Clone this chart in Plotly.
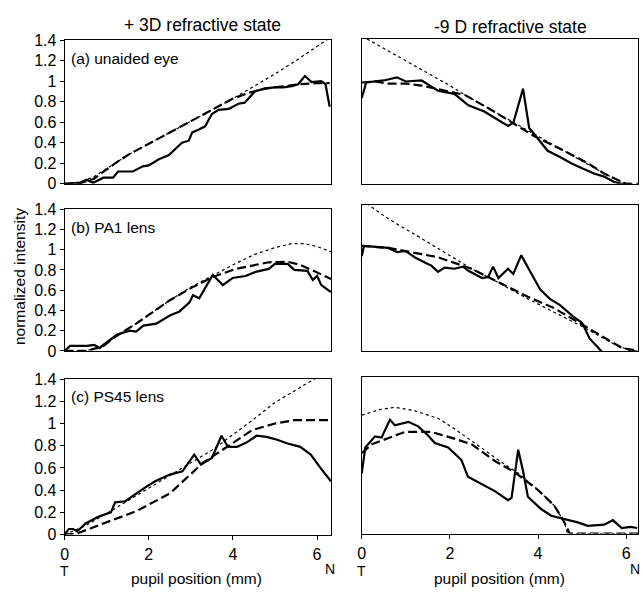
import plotly.graph_objects as go

# ---------------- data (pupil position mm, normalized intensity) ----------------
# Panel (a) unaided eye, +3D
a3_solid_x = [0, 0.37, 0.52, 0.68, 0.92, 1.15, 1.27, 1.62, 1.86, 2.0, 2.24, 2.48, 2.63, 2.79, 2.95, 3.03, 3.19, 3.34, 3.5, 3.66, 3.9, 4.05, 4.13, 4.28, 4.52, 4.76, 5.0, 5.2, 5.4, 5.55, 5.71, 5.87, 6.1, 6.2, 6.3]
a3_solid_y = [0, 0.01, 0.04, 0.01, 0.06, 0.06, 0.12, 0.12, 0.17, 0.18, 0.24, 0.28, 0.34, 0.4, 0.42, 0.5, 0.53, 0.56, 0.68, 0.72, 0.73, 0.76, 0.78, 0.79, 0.9, 0.93, 0.94, 0.94, 0.95, 0.97, 1.05, 0.99, 1.0, 0.97, 0.75]
a3_dash_x = [0, 0.4, 0.7, 1.2, 1.5, 2.0, 2.5, 3.0, 3.5, 4.0, 4.4, 4.8, 5.2, 5.6, 6.0, 6.3]
a3_dash_y = [0, 0.01, 0.05, 0.2, 0.28, 0.39, 0.5, 0.61, 0.72, 0.83, 0.89, 0.93, 0.95, 0.97, 0.98, 0.98]
a3_dot_x = [0, 0.4, 0.7, 1.2, 1.5, 2.0, 2.5, 3.0, 3.5, 4.0, 4.5, 5.0, 5.5, 6.0, 6.33]
a3_dot_y = [0, 0.02, 0.07, 0.2, 0.28, 0.39, 0.5, 0.61, 0.72, 0.83, 0.95, 1.07, 1.2, 1.34, 1.43]

# Panel (a) unaided eye, -9D
a9_solid_x = [0, 0.1, 0.5, 0.8, 1.0, 1.36, 1.58, 1.73, 2.1, 2.42, 2.78, 3.1, 3.32, 3.44, 3.66, 3.8, 3.96, 4.22, 4.5, 4.75, 5.0, 5.27, 5.5, 5.72, 5.9, 6.1]
a9_solid_y = [0.83, 0.98, 1.0, 1.03, 0.99, 1.0, 0.94, 0.9, 0.87, 0.76, 0.7, 0.62, 0.56, 0.59, 0.92, 0.54, 0.46, 0.32, 0.26, 0.2, 0.15, 0.1, 0.07, 0.02, 0.0, 0.0]
a9_dash_x = [0, 0.3, 0.6, 1.0, 1.36, 1.8, 2.34, 3.0, 3.62, 3.92, 4.5, 5.13, 5.5, 6.0, 6.27]
a9_dash_y = [0.98, 0.99, 0.97, 0.97, 0.95, 0.91, 0.86, 0.7, 0.54, 0.46, 0.34, 0.2, 0.1, 0.0, 0.0]
a9_dot_x = [0, 1.0, 2.0, 2.34, 3.0, 3.5, 4.0, 4.5, 5.0, 5.5, 6.0, 6.27]
a9_dot_y = [1.43, 1.19, 0.95, 0.86, 0.7, 0.58, 0.46, 0.34, 0.22, 0.1, 0.0, -0.01]

# Panel (b) PA1 lens, +3D
b3_solid_x = [0, 0.13, 0.53, 0.7, 0.84, 0.92, 1.24, 1.55, 1.7, 1.87, 2.18, 2.5, 2.73, 2.97, 3.05, 3.2, 3.52, 3.76, 3.99, 4.3, 4.54, 4.85, 5.0, 5.3, 5.46, 5.77, 5.9, 6.0, 6.1, 6.33]
b3_solid_y = [0, 0.05, 0.05, 0.06, 0.03, 0.06, 0.16, 0.2, 0.19, 0.25, 0.27, 0.35, 0.39, 0.48, 0.55, 0.52, 0.75, 0.65, 0.72, 0.74, 0.78, 0.81, 0.86, 0.86, 0.8, 0.79, 0.7, 0.74, 0.65, 0.58]
b3_dash_x = [0, 0.5, 0.9, 1.24, 1.7, 2.5, 3.0, 3.52, 4.07, 4.85, 5.3, 5.6, 5.87, 6.33]
b3_dash_y = [0, 0.0, 0.04, 0.15, 0.27, 0.5, 0.62, 0.73, 0.81, 0.875, 0.88, 0.85, 0.8, 0.71]
b3_dot_x = [0, 0.5, 0.9, 1.24, 1.7, 2.5, 3.0, 3.5, 4.0, 4.5, 5.0, 5.4, 5.7, 6.0, 6.33]
b3_dot_y = [0, 0.0, 0.05, 0.15, 0.27, 0.5, 0.63, 0.74, 0.85, 0.95, 1.02, 1.06, 1.06, 1.03, 0.98]

# Panel (b) PA1 lens, -9D
b9_solid_x = [0, 0.05, 0.6, 0.8, 1.0, 1.2, 1.43, 1.58, 1.73, 1.88, 2.1, 2.3, 2.42, 2.73, 2.87, 2.98, 3.1, 3.32, 3.44, 3.62, 3.8, 4.05, 4.27, 4.5, 4.8, 5.0, 5.17, 5.32, 5.5]
b9_solid_y = [0.91, 1.01, 0.99, 0.95, 0.96, 0.9, 0.85, 0.82, 0.76, 0.8, 0.79, 0.81, 0.77, 0.7, 0.71, 0.81, 0.7, 0.79, 0.74, 0.92, 0.78, 0.59, 0.5, 0.44, 0.33, 0.27, 0.12, 0.05, -0.03]
b9_dash_x = [0, 0.6, 1.36, 1.73, 2.49, 3.0, 3.77, 4.37, 5.13, 5.9, 6.27]
b9_dash_y = [1.01, 0.99, 0.93, 0.9, 0.79, 0.68, 0.52, 0.41, 0.22, 0.03, 0.0]
b9_dot_x = [0, 0.6, 1.36, 2.1, 2.49, 3.0, 3.77, 4.98, 5.66, 6.1, 6.27]
b9_dot_y = [1.45, 1.27, 1.08, 0.89, 0.79, 0.68, 0.5, 0.24, 0.08, 0.0, 0.0]

# Panel (c) PS45 lens, +3D
c3_solid_x = [0, 0.1, 0.2, 0.3, 0.5, 0.8, 1.1, 1.2, 1.44, 1.7, 1.9, 2.15, 2.5, 2.8, 3.08, 3.24, 3.5, 3.73, 3.88, 4.1, 4.33, 4.56, 4.8, 5.0, 5.3, 5.6, 5.85, 6.08, 6.33]
c3_solid_y = [0, 0.05, 0.05, 0.03, 0.1, 0.16, 0.2, 0.29, 0.3, 0.37, 0.42, 0.48, 0.54, 0.57, 0.72, 0.63, 0.69, 0.89, 0.79, 0.79, 0.83, 0.89, 0.88, 0.86, 0.82, 0.79, 0.72, 0.6, 0.48]
c3_dash_x = [0, 0.3, 0.92, 1.7, 2.5, 2.9, 3.3, 3.9, 4.45, 5.0, 5.45, 6.0, 6.33]
c3_dash_y = [0, 0.01, 0.1, 0.21, 0.37, 0.51, 0.65, 0.8, 0.94, 1.0, 1.03, 1.03, 1.03]
c3_dot_x = [0, 0.5, 1.0, 2.0, 3.0, 3.5, 4.0, 4.5, 5.0, 5.5, 6.0, 6.33]
c3_dot_y = [0, 0.08, 0.19, 0.42, 0.65, 0.76, 0.9, 1.04, 1.19, 1.3, 1.41, 1.49]

# Panel (c) PS45 lens, -9D
c9_solid_x = [0, 0.08, 0.3, 0.45, 0.64, 0.75, 1.06, 1.28, 1.5, 1.66, 1.96, 2.1, 2.26, 2.41, 2.64, 3.02, 3.32, 3.4, 3.55, 3.66, 3.77, 4.07, 4.3, 4.6, 4.9, 5.13, 5.5, 5.7, 5.9, 6.1, 6.25]
c9_solid_y = [0.54, 0.77, 0.87, 0.86, 1.02, 0.97, 1.0, 0.96, 0.88, 0.81, 0.77, 0.72, 0.66, 0.51, 0.46, 0.38, 0.3, 0.32, 0.75, 0.56, 0.33, 0.22, 0.16, 0.13, 0.1, 0.07, 0.08, 0.12, 0.05, 0.06, 0.05]
c9_dash_x = [0, 0.23, 0.98, 1.58, 2.1, 2.49, 3.02, 3.47, 4.0, 4.37, 4.6, 4.72, 5.5, 6.27]
c9_dash_y = [0.72, 0.8, 0.91, 0.91, 0.85, 0.8, 0.65, 0.55, 0.39, 0.25, 0.1, 0.0, 0.0, 0.0]
c9_dot_x = [0, 0.4, 0.75, 1.2, 1.74, 2.1, 2.49, 3.02, 3.55, 4.0, 4.37, 4.6, 4.67, 5.5, 6.27]
c9_dot_y = [1.06, 1.11, 1.13, 1.1, 1.03, 0.94, 0.83, 0.68, 0.54, 0.39, 0.25, 0.1, 0.0, 0.0, 0.0]

y_tick_vals = [0, 0.2, 0.4, 0.6, 0.8, 1, 1.2, 1.4]
y_tick_text = ["0", "0.2", "0.4", "0.6", "0.8", "1", "1.2", "1.4"]
x_tick_vals = [0, 2, 4, 6]
x_tick_text = ["0", "2", "4", "6"]
col_titles = ["+ 3D refractive state", "-9 D refractive state"]
panel_labels = ["(a) unaided eye", "(b) PA1 lens", "(c) PS45 lens"]
x_title = "pupil position (mm)"
y_title = "normalized intensity"

# ---------------- layout geometry ----------------
W, H = 643, 597
FONT = "Liberation Sans, Arial, Helvetica, sans-serif"

def fx(px):
    return px / W

def fy(py):
    return 1 - py / H

col_px = [(61, 329), (360, 638)]
row_px = {0: [(33, 181), (32, 181)], 1: [(207, 353), (203, 353)], 2: [(382, 542), (380, 541)]}
x_max = [6.33, 6.27]

panels = [
    (0, 0, a3_solid_x, a3_solid_y, a3_dash_x, a3_dash_y, a3_dot_x, a3_dot_y),
    (0, 1, a9_solid_x, a9_solid_y, a9_dash_x, a9_dash_y, a9_dot_x, a9_dot_y),
    (1, 0, b3_solid_x, b3_solid_y, b3_dash_x, b3_dash_y, b3_dot_x, b3_dot_y),
    (1, 1, b9_solid_x, b9_solid_y, b9_dash_x, b9_dash_y, b9_dot_x, b9_dot_y),
    (2, 0, c3_solid_x, c3_solid_y, c3_dash_x, c3_dash_y, c3_dot_x, c3_dot_y),
    (2, 1, c9_solid_x, c9_solid_y, c9_dash_x, c9_dash_y, c9_dot_x, c9_dot_y),
]

fig = go.Figure()
layout = {}

for idx, (r, c, sx, sy, dx, dy, ox, oy) in enumerate(panels):
    n = idx + 1
    xa = "x" if n == 1 else f"x{n}"
    ya = "y" if n == 1 else f"y{n}"
    fig.add_trace(go.Scatter(x=ox, y=oy, mode="lines", xaxis=xa, yaxis=ya,
                             line=dict(color="black", width=1.2, dash="dot"), showlegend=False))
    fig.add_trace(go.Scatter(x=dx, y=dy, mode="lines", xaxis=xa, yaxis=ya,
                             line=dict(color="black", width=2.2, dash="9px,4px"), showlegend=False))
    fig.add_trace(go.Scatter(x=sx, y=sy, mode="lines", xaxis=xa, yaxis=ya,
                             line=dict(color="black", width=2.2), showlegend=False))

    (l, rr) = col_px[c]
    (t, b) = row_px[r][c]
    bottom = (r == 2)
    layout["xaxis" if n == 1 else f"xaxis{n}"] = dict(
        domain=[fx(l), fx(rr)], range=[0, x_max[c]], anchor=ya,
        showgrid=False, zeroline=False, showline=True, linecolor="black", linewidth=1,
        mirror=True,
        ticks="outside" if bottom else "", ticklen=4, tickcolor="black",
        ticklabelstandoff=1,
        tickvals=x_tick_vals, ticktext=x_tick_text, showticklabels=bottom,
        tickfont=dict(family=FONT, size=16, color="black"),
    )
    layout["yaxis" if n == 1 else f"yaxis{n}"] = dict(
        domain=[fy(b), fy(t)], range=[0, 1.4], anchor=xa,
        showgrid=False, zeroline=False, showline=True, linecolor="black", linewidth=1,
        mirror=True,
        ticks="outside" if c == 0 else "", ticklen=4, tickcolor="black",
        tickvals=y_tick_vals, ticktext=y_tick_text, showticklabels=(c == 0),
        tickfont=dict(family=FONT, size=16, color="black"),
    )

annotations = []
for c, (cx, cy) in enumerate([(200, 17), (510, 20)]):
    annotations.append(dict(x=fx(cx), y=fy(cy), xref="paper", yref="paper", text=col_titles[c],
                            showarrow=False, xanchor="center", yanchor="middle",
                            font=dict(family=FONT, size=17.5, color="black")))
for r, py in enumerate([52, 226, 400]):
    annotations.append(dict(x=fx(65), y=fy(py), xref="paper", yref="paper", text=panel_labels[r],
                            showarrow=False, xanchor="left", yanchor="middle",
                            font=dict(family=FONT, size=15.5, color="black")))
annotations.append(dict(x=fx(15), y=fy(276), xref="paper", yref="paper", text=y_title,
                        showarrow=False, textangle=-90, xanchor="center", yanchor="middle",
                        font=dict(family=FONT, size=15.5, color="black")))
for cx in [194, 499]:
    annotations.append(dict(x=fx(cx), y=fy(587), xref="paper", yref="paper", text=x_title,
                            showarrow=False, xanchor="center", yanchor="middle",
                            font=dict(family=FONT, size=15.5, color="black")))
for tx, nx in [(61, 328), (360, 635)]:
    annotations.append(dict(x=fx(tx), y=fy(579), xref="paper", yref="paper", text="T",
                            showarrow=False, xanchor="center", yanchor="middle",
                            font=dict(family=FONT, size=14, color="black")))
    annotations.append(dict(x=fx(nx), y=fy(577), xref="paper", yref="paper", text="N",
                            showarrow=False, xanchor="center", yanchor="middle",
                            font=dict(family=FONT, size=14, color="black")))

fig.update_layout(
    width=W, height=H,
    margin=dict(l=0, r=0, t=0, b=0),
    paper_bgcolor="white", plot_bgcolor="white",
    annotations=annotations,
    **layout,
)

fig.write_html("out.html", config={"responsive": False, "displayModeBar": False},
               post_script="document.body.style.margin='0';document.body.style.padding='0';")
